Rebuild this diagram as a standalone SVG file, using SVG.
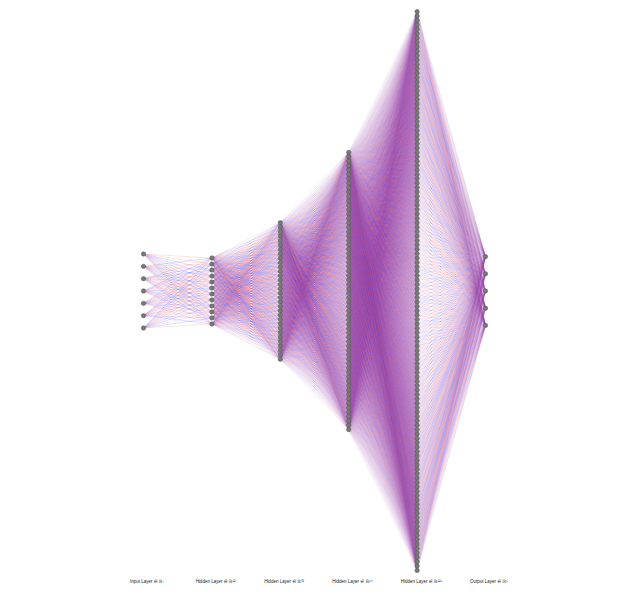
<svg xmlns="http://www.w3.org/2000/svg" width="638" height="604" viewBox="0 0 638 604">
<style>
path{fill:none;stroke-width:.5;vector-effect:non-scaling-stroke}
.r{stroke:#ff5a5a}
.b{stroke:#4040ff}
circle{r:2.2px;fill:#787878;stroke:#555;stroke-width:.5}
.t{font-family:"Liberation Sans","DejaVu Sans",sans-serif;font-size:4.5px;text-anchor:middle;fill:#222}
</style>
<rect width="638" height="604" fill="#fff"/>
<defs>
<path id="q1a" d="M0 -.667L1 0M0 3.444L1 0M0 9.611L1 0"/>
<path id="q1b" d="M0 1.389L1 0M0 5.5L1 0M0 7.556L1 0M0 11.667L1 0"/>
<path id="q1c" d="M0 -.667L1 0M0 1.389L1 0M0 7.556L1 0"/>
<path id="q1d" d="M0 3.444L1 0M0 5.5L1 0M0 9.611L1 0M0 11.667L1 0"/>
<g id="A1"><use href="#q1a" class="r"/><use href="#q1b" class="b"/></g>
<g id="B1"><use href="#q1a" class="b"/><use href="#q1b" class="r"/></g>
<g id="C1"><use href="#q1c" class="r"/><use href="#q1d" class="b"/></g>
<g id="D1"><use href="#q1c" class="b"/><use href="#q1d" class="r"/></g>
<path id="q2a" d="M0 8L1 0M0 12.091L1 0M0 13.455L1 0M0 17.545L1 0M0 20.273L1 0M0 21.636L1 0"/>
<path id="q2b" d="M0 9.364L1 0M0 10.727L1 0M0 14.818L1 0M0 16.182L1 0M0 18.909L1 0M0 23L1 0"/>
<path id="q2c" d="M0 9.364L1 0M0 10.727L1 0M0 13.455L1 0M0 16.182L1 0M0 17.545L1 0M0 23L1 0"/>
<path id="q2d" d="M0 8L1 0M0 12.091L1 0M0 14.818L1 0M0 18.909L1 0M0 20.273L1 0M0 21.636L1 0"/>
<g id="A2"><use href="#q2a" class="r"/><use href="#q2b" class="b"/></g>
<g id="B2"><use href="#q2a" class="b"/><use href="#q2b" class="r"/></g>
<g id="C2"><use href="#q2c" class="r"/><use href="#q2d" class="b"/></g>
<g id="D2"><use href="#q2c" class="b"/><use href="#q2d" class="r"/></g>
<path id="q3a" d="M0 16L1 0M0 18L1 0M0 19L1 0M0 23L1 0M0 24L1 0M0 25L1 0M0 28L1 0M0 30L1 0M0 33L1 0M0 34L1 0M0 36L1 0M0 39L1 0M0 41L1 0M0 42L1 0M0 45L1 0M0 47L1 0"/>
<path id="q3b" d="M0 17L1 0M0 20L1 0M0 21L1 0M0 22L1 0M0 26L1 0M0 27L1 0M0 29L1 0M0 31L1 0M0 32L1 0M0 35L1 0M0 37L1 0M0 38L1 0M0 40L1 0M0 43L1 0M0 44L1 0M0 46L1 0"/>
<path id="q3c" d="M0 17L1 0M0 19L1 0M0 20L1 0M0 22L1 0M0 24L1 0M0 27L1 0M0 29L1 0M0 30L1 0M0 31L1 0M0 33L1 0M0 35L1 0M0 38L1 0M0 40L1 0M0 41L1 0M0 44L1 0M0 46L1 0"/>
<path id="q3d" d="M0 16L1 0M0 18L1 0M0 21L1 0M0 23L1 0M0 25L1 0M0 26L1 0M0 28L1 0M0 32L1 0M0 34L1 0M0 36L1 0M0 37L1 0M0 39L1 0M0 42L1 0M0 43L1 0M0 45L1 0M0 47L1 0"/>
<g id="A3"><use href="#q3a" class="r"/><use href="#q3b" class="b"/></g>
<g id="B3"><use href="#q3a" class="b"/><use href="#q3b" class="r"/></g>
<g id="C3"><use href="#q3c" class="r"/><use href="#q3d" class="b"/></g>
<g id="D3"><use href="#q3c" class="b"/><use href="#q3d" class="r"/></g>
<path id="q4a" d="M0 32L1 0M0 34L1 0M0 35L1 0M0 38L1 0M0 40L1 0M0 41L1 0M0 42L1 0M0 45L1 0M0 47L1 0M0 50L1 0M0 51L1 0M0 53L1 0M0 56L1 0M0 57L1 0M0 59L1 0M0 60L1 0M0 62L1 0M0 65L1 0M0 66L1 0M0 68L1 0M0 71L1 0M0 73L1 0M0 74L1 0M0 76L1 0M0 79L1 0M0 80L1 0M0 81L1 0M0 84L1 0M0 86L1 0M0 89L1 0M0 91L1 0M0 92L1 0M0 94L1 0"/>
<path id="q4b" d="M0 33L1 0M0 36L1 0M0 37L1 0M0 39L1 0M0 43L1 0M0 44L1 0M0 46L1 0M0 48L1 0M0 49L1 0M0 52L1 0M0 54L1 0M0 55L1 0M0 58L1 0M0 61L1 0M0 63L1 0M0 64L1 0M0 67L1 0M0 69L1 0M0 70L1 0M0 72L1 0M0 75L1 0M0 77L1 0M0 78L1 0M0 82L1 0M0 83L1 0M0 85L1 0M0 87L1 0M0 88L1 0M0 90L1 0M0 93L1 0M0 95L1 0"/>
<path id="q4c" d="M0 33L1 0M0 34L1 0M0 37L1 0M0 39L1 0M0 40L1 0M0 43L1 0M0 44L1 0M0 46L1 0M0 48L1 0M0 51L1 0M0 52L1 0M0 53L1 0M0 55L1 0M0 58L1 0M0 59L1 0M0 61L1 0M0 64L1 0M0 65L1 0M0 67L1 0M0 69L1 0M0 70L1 0M0 72L1 0M0 75L1 0M0 77L1 0M0 78L1 0M0 80L1 0M0 82L1 0M0 83L1 0M0 86L1 0M0 88L1 0M0 90L1 0M0 91L1 0M0 95L1 0"/>
<path id="q4d" d="M0 32L1 0M0 35L1 0M0 36L1 0M0 38L1 0M0 41L1 0M0 42L1 0M0 45L1 0M0 47L1 0M0 49L1 0M0 50L1 0M0 54L1 0M0 56L1 0M0 57L1 0M0 60L1 0M0 62L1 0M0 63L1 0M0 66L1 0M0 68L1 0M0 71L1 0M0 73L1 0M0 74L1 0M0 76L1 0M0 79L1 0M0 81L1 0M0 84L1 0M0 85L1 0M0 87L1 0M0 89L1 0M0 92L1 0M0 93L1 0M0 94L1 0"/>
<g id="A4"><use href="#q4a" class="r"/><use href="#q4b" class="b"/></g>
<g id="B4"><use href="#q4a" class="b"/><use href="#q4b" class="r"/></g>
<g id="C4"><use href="#q4c" class="r"/><use href="#q4d" class="b"/></g>
<g id="D4"><use href="#q4c" class="b"/><use href="#q4d" class="r"/></g>
<path id="q5a" d="M0 0L1 55.682M0 0L1 63.5M0 0L1 67.409"/>
<path id="q5b" d="M0 0L1 59.591M0 0L1 71.318"/>
<path id="q5c" d="M0 0L1 55.682M0 0L1 59.591M0 0L1 71.318"/>
<path id="q5d" d="M0 0L1 63.5M0 0L1 67.409"/>
<g id="A5"><use href="#q5a" class="r"/><use href="#q5b" class="b"/></g>
<g id="B5"><use href="#q5a" class="b"/><use href="#q5b" class="r"/></g>
<g id="C5"><use href="#q5c" class="r"/><use href="#q5d" class="b"/></g>
<g id="D5"><use href="#q5c" class="b"/><use href="#q5d" class="r"/></g>
</defs>
<g id="connectors">
<g id="edges-1-2" transform="translate(143.5 258) scale(68.4 6)" stroke-opacity=".35">
<use href="#A1"/><use href="#C1" transform="matrix(1,1,0,1,0,0)"/><use href="#B1" transform="matrix(1,2,0,1,0,0)"/><use href="#D1" transform="matrix(1,3,0,1,0,0)"/><use href="#B1" transform="matrix(1,4,0,1,0,0)"/><use href="#A1" transform="matrix(1,5,0,1,0,0)"/><use href="#D1" transform="matrix(1,6,0,1,0,0)"/><use href="#C1" transform="matrix(1,7,0,1,0,0)"/><use href="#A1" transform="matrix(1,8,0,1,0,0)"/><use href="#D1" transform="matrix(1,9,0,1,0,0)"/><use href="#C1" transform="matrix(1,10,0,1,0,0)"/><use href="#B1" transform="matrix(1,11,0,1,0,0)"/>
</g>
<g id="edges-2-3" transform="translate(211.9 222.8) scale(68.4 4.4)" stroke-opacity=".28">
<use href="#A2"/><use href="#C2" transform="matrix(1,1,0,1,0,0)"/><use href="#B2" transform="matrix(1,2,0,1,0,0)"/><use href="#D2" transform="matrix(1,3,0,1,0,0)"/><use href="#A2" transform="matrix(1,4,0,1,0,0)"/><use href="#B2" transform="matrix(1,5,0,1,0,0)"/><use href="#D2" transform="matrix(1,6,0,1,0,0)"/><use href="#C2" transform="matrix(1,7,0,1,0,0)"/><use href="#C2" transform="matrix(1,8,0,1,0,0)"/><use href="#A2" transform="matrix(1,9,0,1,0,0)"/><use href="#D2" transform="matrix(1,10,0,1,0,0)"/><use href="#B2" transform="matrix(1,11,0,1,0,0)"/><use href="#A2" transform="matrix(1,12,0,1,0,0)"/><use href="#C2" transform="matrix(1,13,0,1,0,0)"/><use href="#B2" transform="matrix(1,14,0,1,0,0)"/><use href="#D2" transform="matrix(1,15,0,1,0,0)"/><use href="#D2" transform="matrix(1,16,0,1,0,0)"/><use href="#A2" transform="matrix(1,17,0,1,0,0)"/><use href="#C2" transform="matrix(1,18,0,1,0,0)"/><use href="#B2" transform="matrix(1,19,0,1,0,0)"/><use href="#C2" transform="matrix(1,20,0,1,0,0)"/><use href="#D2" transform="matrix(1,21,0,1,0,0)"/><use href="#A2" transform="matrix(1,22,0,1,0,0)"/><use href="#B2" transform="matrix(1,23,0,1,0,0)"/><use href="#B2" transform="matrix(1,24,0,1,0,0)"/><use href="#C2" transform="matrix(1,25,0,1,0,0)"/><use href="#D2" transform="matrix(1,26,0,1,0,0)"/><use href="#A2" transform="matrix(1,27,0,1,0,0)"/><use href="#D2" transform="matrix(1,28,0,1,0,0)"/><use href="#B2" transform="matrix(1,29,0,1,0,0)"/><use href="#C2" transform="matrix(1,30,0,1,0,0)"/><use href="#A2" transform="matrix(1,31,0,1,0,0)"/>
</g>
<g id="edges-3-4" transform="translate(280.3 152.4) scale(68.4 4.4)" stroke-opacity=".15">
<use href="#B3"/><use href="#D3" transform="matrix(1,1,0,1,0,0)"/><use href="#A3" transform="matrix(1,2,0,1,0,0)"/><use href="#C3" transform="matrix(1,3,0,1,0,0)"/><use href="#C3" transform="matrix(1,4,0,1,0,0)"/><use href="#A3" transform="matrix(1,5,0,1,0,0)"/><use href="#B3" transform="matrix(1,6,0,1,0,0)"/><use href="#D3" transform="matrix(1,7,0,1,0,0)"/><use href="#A3" transform="matrix(1,8,0,1,0,0)"/><use href="#D3" transform="matrix(1,9,0,1,0,0)"/><use href="#C3" transform="matrix(1,10,0,1,0,0)"/><use href="#B3" transform="matrix(1,11,0,1,0,0)"/><use href="#D3" transform="matrix(1,12,0,1,0,0)"/><use href="#B3" transform="matrix(1,13,0,1,0,0)"/><use href="#A3" transform="matrix(1,14,0,1,0,0)"/><use href="#C3" transform="matrix(1,15,0,1,0,0)"/><use href="#C3" transform="matrix(1,16,0,1,0,0)"/><use href="#D3" transform="matrix(1,17,0,1,0,0)"/><use href="#A3" transform="matrix(1,18,0,1,0,0)"/><use href="#B3" transform="matrix(1,19,0,1,0,0)"/><use href="#A3" transform="matrix(1,20,0,1,0,0)"/><use href="#B3" transform="matrix(1,21,0,1,0,0)"/><use href="#C3" transform="matrix(1,22,0,1,0,0)"/><use href="#D3" transform="matrix(1,23,0,1,0,0)"/><use href="#D3" transform="matrix(1,24,0,1,0,0)"/><use href="#C3" transform="matrix(1,25,0,1,0,0)"/><use href="#B3" transform="matrix(1,26,0,1,0,0)"/><use href="#A3" transform="matrix(1,27,0,1,0,0)"/><use href="#B3" transform="matrix(1,28,0,1,0,0)"/><use href="#A3" transform="matrix(1,29,0,1,0,0)"/><use href="#D3" transform="matrix(1,30,0,1,0,0)"/><use href="#C3" transform="matrix(1,31,0,1,0,0)"/><use href="#A3" transform="matrix(1,32,0,1,0,0)"/><use href="#C3" transform="matrix(1,33,0,1,0,0)"/><use href="#B3" transform="matrix(1,34,0,1,0,0)"/><use href="#D3" transform="matrix(1,35,0,1,0,0)"/><use href="#D3" transform="matrix(1,36,0,1,0,0)"/><use href="#B3" transform="matrix(1,37,0,1,0,0)"/><use href="#C3" transform="matrix(1,38,0,1,0,0)"/><use href="#A3" transform="matrix(1,39,0,1,0,0)"/><use href="#C3" transform="matrix(1,40,0,1,0,0)"/><use href="#A3" transform="matrix(1,41,0,1,0,0)"/><use href="#D3" transform="matrix(1,42,0,1,0,0)"/><use href="#B3" transform="matrix(1,43,0,1,0,0)"/><use href="#B3" transform="matrix(1,44,0,1,0,0)"/><use href="#C3" transform="matrix(1,45,0,1,0,0)"/><use href="#A3" transform="matrix(1,46,0,1,0,0)"/><use href="#D3" transform="matrix(1,47,0,1,0,0)"/><use href="#A3" transform="matrix(1,48,0,1,0,0)"/><use href="#D3" transform="matrix(1,49,0,1,0,0)"/><use href="#B3" transform="matrix(1,50,0,1,0,0)"/><use href="#C3" transform="matrix(1,51,0,1,0,0)"/><use href="#C3" transform="matrix(1,52,0,1,0,0)"/><use href="#B3" transform="matrix(1,53,0,1,0,0)"/><use href="#D3" transform="matrix(1,54,0,1,0,0)"/><use href="#A3" transform="matrix(1,55,0,1,0,0)"/><use href="#D3" transform="matrix(1,56,0,1,0,0)"/><use href="#A3" transform="matrix(1,57,0,1,0,0)"/><use href="#C3" transform="matrix(1,58,0,1,0,0)"/><use href="#B3" transform="matrix(1,59,0,1,0,0)"/><use href="#B3" transform="matrix(1,60,0,1,0,0)"/><use href="#A3" transform="matrix(1,61,0,1,0,0)"/><use href="#C3" transform="matrix(1,62,0,1,0,0)"/><use href="#D3" transform="matrix(1,63,0,1,0,0)"/>
</g>
<g id="edges-4-5" transform="translate(348.7 11.6) scale(68.4 4.4)" stroke-opacity=".08">
<use href="#A4"/><use href="#C4" transform="matrix(1,1,0,1,0,0)"/><use href="#B4" transform="matrix(1,2,0,1,0,0)"/><use href="#D4" transform="matrix(1,3,0,1,0,0)"/><use href="#B4" transform="matrix(1,4,0,1,0,0)"/><use href="#A4" transform="matrix(1,5,0,1,0,0)"/><use href="#D4" transform="matrix(1,6,0,1,0,0)"/><use href="#C4" transform="matrix(1,7,0,1,0,0)"/><use href="#C4" transform="matrix(1,8,0,1,0,0)"/><use href="#A4" transform="matrix(1,9,0,1,0,0)"/><use href="#D4" transform="matrix(1,10,0,1,0,0)"/><use href="#B4" transform="matrix(1,11,0,1,0,0)"/><use href="#D4" transform="matrix(1,12,0,1,0,0)"/><use href="#B4" transform="matrix(1,13,0,1,0,0)"/><use href="#C4" transform="matrix(1,14,0,1,0,0)"/><use href="#A4" transform="matrix(1,15,0,1,0,0)"/><use href="#A4" transform="matrix(1,16,0,1,0,0)"/><use href="#B4" transform="matrix(1,17,0,1,0,0)"/><use href="#D4" transform="matrix(1,18,0,1,0,0)"/><use href="#C4" transform="matrix(1,19,0,1,0,0)"/><use href="#C4" transform="matrix(1,20,0,1,0,0)"/><use href="#D4" transform="matrix(1,21,0,1,0,0)"/><use href="#B4" transform="matrix(1,22,0,1,0,0)"/><use href="#A4" transform="matrix(1,23,0,1,0,0)"/><use href="#B4" transform="matrix(1,24,0,1,0,0)"/><use href="#C4" transform="matrix(1,25,0,1,0,0)"/><use href="#A4" transform="matrix(1,26,0,1,0,0)"/><use href="#D4" transform="matrix(1,27,0,1,0,0)"/><use href="#D4" transform="matrix(1,28,0,1,0,0)"/><use href="#A4" transform="matrix(1,29,0,1,0,0)"/><use href="#C4" transform="matrix(1,30,0,1,0,0)"/><use href="#B4" transform="matrix(1,31,0,1,0,0)"/><use href="#C4" transform="matrix(1,32,0,1,0,0)"/><use href="#B4" transform="matrix(1,33,0,1,0,0)"/><use href="#A4" transform="matrix(1,34,0,1,0,0)"/><use href="#D4" transform="matrix(1,35,0,1,0,0)"/><use href="#A4" transform="matrix(1,36,0,1,0,0)"/><use href="#D4" transform="matrix(1,37,0,1,0,0)"/><use href="#B4" transform="matrix(1,38,0,1,0,0)"/><use href="#C4" transform="matrix(1,39,0,1,0,0)"/><use href="#D4" transform="matrix(1,40,0,1,0,0)"/><use href="#C4" transform="matrix(1,41,0,1,0,0)"/><use href="#A4" transform="matrix(1,42,0,1,0,0)"/><use href="#B4" transform="matrix(1,43,0,1,0,0)"/><use href="#B4" transform="matrix(1,44,0,1,0,0)"/><use href="#D4" transform="matrix(1,45,0,1,0,0)"/><use href="#C4" transform="matrix(1,46,0,1,0,0)"/><use href="#A4" transform="matrix(1,47,0,1,0,0)"/><use href="#A4" transform="matrix(1,48,0,1,0,0)"/><use href="#C4" transform="matrix(1,49,0,1,0,0)"/><use href="#D4" transform="matrix(1,50,0,1,0,0)"/><use href="#B4" transform="matrix(1,51,0,1,0,0)"/><use href="#C4" transform="matrix(1,52,0,1,0,0)"/><use href="#B4" transform="matrix(1,53,0,1,0,0)"/><use href="#D4" transform="matrix(1,54,0,1,0,0)"/><use href="#A4" transform="matrix(1,55,0,1,0,0)"/><use href="#D4" transform="matrix(1,56,0,1,0,0)"/><use href="#A4" transform="matrix(1,57,0,1,0,0)"/><use href="#B4" transform="matrix(1,58,0,1,0,0)"/><use href="#C4" transform="matrix(1,59,0,1,0,0)"/><use href="#B4" transform="matrix(1,60,0,1,0,0)"/><use href="#C4" transform="matrix(1,61,0,1,0,0)"/><use href="#D4" transform="matrix(1,62,0,1,0,0)"/><use href="#A4" transform="matrix(1,63,0,1,0,0)"/>
<use href="#B4" transform="matrix(1,64,0,1,0,0)"/><use href="#D4" transform="matrix(1,65,0,1,0,0)"/><use href="#A4" transform="matrix(1,66,0,1,0,0)"/><use href="#C4" transform="matrix(1,67,0,1,0,0)"/><use href="#C4" transform="matrix(1,68,0,1,0,0)"/><use href="#A4" transform="matrix(1,69,0,1,0,0)"/><use href="#B4" transform="matrix(1,70,0,1,0,0)"/><use href="#D4" transform="matrix(1,71,0,1,0,0)"/><use href="#A4" transform="matrix(1,72,0,1,0,0)"/><use href="#D4" transform="matrix(1,73,0,1,0,0)"/><use href="#C4" transform="matrix(1,74,0,1,0,0)"/><use href="#B4" transform="matrix(1,75,0,1,0,0)"/><use href="#D4" transform="matrix(1,76,0,1,0,0)"/><use href="#B4" transform="matrix(1,77,0,1,0,0)"/><use href="#A4" transform="matrix(1,78,0,1,0,0)"/><use href="#C4" transform="matrix(1,79,0,1,0,0)"/><use href="#C4" transform="matrix(1,80,0,1,0,0)"/><use href="#D4" transform="matrix(1,81,0,1,0,0)"/><use href="#A4" transform="matrix(1,82,0,1,0,0)"/><use href="#B4" transform="matrix(1,83,0,1,0,0)"/><use href="#A4" transform="matrix(1,84,0,1,0,0)"/><use href="#B4" transform="matrix(1,85,0,1,0,0)"/><use href="#C4" transform="matrix(1,86,0,1,0,0)"/><use href="#D4" transform="matrix(1,87,0,1,0,0)"/><use href="#D4" transform="matrix(1,88,0,1,0,0)"/><use href="#C4" transform="matrix(1,89,0,1,0,0)"/><use href="#B4" transform="matrix(1,90,0,1,0,0)"/><use href="#A4" transform="matrix(1,91,0,1,0,0)"/><use href="#B4" transform="matrix(1,92,0,1,0,0)"/><use href="#A4" transform="matrix(1,93,0,1,0,0)"/><use href="#D4" transform="matrix(1,94,0,1,0,0)"/><use href="#C4" transform="matrix(1,95,0,1,0,0)"/><use href="#A4" transform="matrix(1,96,0,1,0,0)"/><use href="#C4" transform="matrix(1,97,0,1,0,0)"/><use href="#B4" transform="matrix(1,98,0,1,0,0)"/><use href="#D4" transform="matrix(1,99,0,1,0,0)"/><use href="#D4" transform="matrix(1,100,0,1,0,0)"/><use href="#B4" transform="matrix(1,101,0,1,0,0)"/><use href="#C4" transform="matrix(1,102,0,1,0,0)"/><use href="#A4" transform="matrix(1,103,0,1,0,0)"/><use href="#C4" transform="matrix(1,104,0,1,0,0)"/><use href="#A4" transform="matrix(1,105,0,1,0,0)"/><use href="#D4" transform="matrix(1,106,0,1,0,0)"/><use href="#B4" transform="matrix(1,107,0,1,0,0)"/><use href="#B4" transform="matrix(1,108,0,1,0,0)"/><use href="#C4" transform="matrix(1,109,0,1,0,0)"/><use href="#A4" transform="matrix(1,110,0,1,0,0)"/><use href="#D4" transform="matrix(1,111,0,1,0,0)"/><use href="#A4" transform="matrix(1,112,0,1,0,0)"/><use href="#D4" transform="matrix(1,113,0,1,0,0)"/><use href="#B4" transform="matrix(1,114,0,1,0,0)"/><use href="#C4" transform="matrix(1,115,0,1,0,0)"/><use href="#C4" transform="matrix(1,116,0,1,0,0)"/><use href="#B4" transform="matrix(1,117,0,1,0,0)"/><use href="#D4" transform="matrix(1,118,0,1,0,0)"/><use href="#A4" transform="matrix(1,119,0,1,0,0)"/><use href="#D4" transform="matrix(1,120,0,1,0,0)"/><use href="#A4" transform="matrix(1,121,0,1,0,0)"/><use href="#C4" transform="matrix(1,122,0,1,0,0)"/><use href="#B4" transform="matrix(1,123,0,1,0,0)"/><use href="#B4" transform="matrix(1,124,0,1,0,0)"/><use href="#A4" transform="matrix(1,125,0,1,0,0)"/><use href="#C4" transform="matrix(1,126,0,1,0,0)"/><use href="#D4" transform="matrix(1,127,0,1,0,0)"/>
</g>
<g id="edges-5-6" transform="translate(417.1 11.6) scale(68.4 4.4)" stroke-opacity=".2">
<use href="#B5"/><use href="#D5" transform="matrix(1,-1,0,1,0,1)"/><use href="#A5" transform="matrix(1,-2,0,1,0,2)"/><use href="#C5" transform="matrix(1,-3,0,1,0,3)"/><use href="#C5" transform="matrix(1,-4,0,1,0,4)"/><use href="#A5" transform="matrix(1,-5,0,1,0,5)"/><use href="#B5" transform="matrix(1,-6,0,1,0,6)"/><use href="#D5" transform="matrix(1,-7,0,1,0,7)"/><use href="#A5" transform="matrix(1,-8,0,1,0,8)"/><use href="#D5" transform="matrix(1,-9,0,1,0,9)"/><use href="#C5" transform="matrix(1,-10,0,1,0,10)"/><use href="#B5" transform="matrix(1,-11,0,1,0,11)"/><use href="#D5" transform="matrix(1,-12,0,1,0,12)"/><use href="#B5" transform="matrix(1,-13,0,1,0,13)"/><use href="#A5" transform="matrix(1,-14,0,1,0,14)"/><use href="#C5" transform="matrix(1,-15,0,1,0,15)"/><use href="#C5" transform="matrix(1,-16,0,1,0,16)"/><use href="#D5" transform="matrix(1,-17,0,1,0,17)"/><use href="#A5" transform="matrix(1,-18,0,1,0,18)"/><use href="#B5" transform="matrix(1,-19,0,1,0,19)"/><use href="#A5" transform="matrix(1,-20,0,1,0,20)"/><use href="#B5" transform="matrix(1,-21,0,1,0,21)"/><use href="#C5" transform="matrix(1,-22,0,1,0,22)"/><use href="#D5" transform="matrix(1,-23,0,1,0,23)"/><use href="#D5" transform="matrix(1,-24,0,1,0,24)"/><use href="#C5" transform="matrix(1,-25,0,1,0,25)"/><use href="#B5" transform="matrix(1,-26,0,1,0,26)"/><use href="#A5" transform="matrix(1,-27,0,1,0,27)"/><use href="#B5" transform="matrix(1,-28,0,1,0,28)"/><use href="#A5" transform="matrix(1,-29,0,1,0,29)"/><use href="#D5" transform="matrix(1,-30,0,1,0,30)"/><use href="#C5" transform="matrix(1,-31,0,1,0,31)"/><use href="#A5" transform="matrix(1,-32,0,1,0,32)"/><use href="#C5" transform="matrix(1,-33,0,1,0,33)"/><use href="#B5" transform="matrix(1,-34,0,1,0,34)"/><use href="#D5" transform="matrix(1,-35,0,1,0,35)"/><use href="#D5" transform="matrix(1,-36,0,1,0,36)"/><use href="#B5" transform="matrix(1,-37,0,1,0,37)"/><use href="#C5" transform="matrix(1,-38,0,1,0,38)"/><use href="#A5" transform="matrix(1,-39,0,1,0,39)"/><use href="#C5" transform="matrix(1,-40,0,1,0,40)"/><use href="#A5" transform="matrix(1,-41,0,1,0,41)"/><use href="#D5" transform="matrix(1,-42,0,1,0,42)"/><use href="#B5" transform="matrix(1,-43,0,1,0,43)"/><use href="#B5" transform="matrix(1,-44,0,1,0,44)"/><use href="#C5" transform="matrix(1,-45,0,1,0,45)"/><use href="#A5" transform="matrix(1,-46,0,1,0,46)"/><use href="#D5" transform="matrix(1,-47,0,1,0,47)"/><use href="#A5" transform="matrix(1,-48,0,1,0,48)"/><use href="#D5" transform="matrix(1,-49,0,1,0,49)"/><use href="#B5" transform="matrix(1,-50,0,1,0,50)"/><use href="#C5" transform="matrix(1,-51,0,1,0,51)"/><use href="#C5" transform="matrix(1,-52,0,1,0,52)"/><use href="#B5" transform="matrix(1,-53,0,1,0,53)"/><use href="#D5" transform="matrix(1,-54,0,1,0,54)"/><use href="#A5" transform="matrix(1,-55,0,1,0,55)"/><use href="#D5" transform="matrix(1,-56,0,1,0,56)"/><use href="#A5" transform="matrix(1,-57,0,1,0,57)"/><use href="#C5" transform="matrix(1,-58,0,1,0,58)"/><use href="#B5" transform="matrix(1,-59,0,1,0,59)"/><use href="#B5" transform="matrix(1,-60,0,1,0,60)"/><use href="#A5" transform="matrix(1,-61,0,1,0,61)"/><use href="#C5" transform="matrix(1,-62,0,1,0,62)"/><use href="#D5" transform="matrix(1,-63,0,1,0,63)"/>
<use href="#A5" transform="matrix(1,-64,0,1,0,64)"/><use href="#C5" transform="matrix(1,-65,0,1,0,65)"/><use href="#B5" transform="matrix(1,-66,0,1,0,66)"/><use href="#D5" transform="matrix(1,-67,0,1,0,67)"/><use href="#B5" transform="matrix(1,-68,0,1,0,68)"/><use href="#A5" transform="matrix(1,-69,0,1,0,69)"/><use href="#D5" transform="matrix(1,-70,0,1,0,70)"/><use href="#C5" transform="matrix(1,-71,0,1,0,71)"/><use href="#C5" transform="matrix(1,-72,0,1,0,72)"/><use href="#A5" transform="matrix(1,-73,0,1,0,73)"/><use href="#D5" transform="matrix(1,-74,0,1,0,74)"/><use href="#B5" transform="matrix(1,-75,0,1,0,75)"/><use href="#D5" transform="matrix(1,-76,0,1,0,76)"/><use href="#B5" transform="matrix(1,-77,0,1,0,77)"/><use href="#C5" transform="matrix(1,-78,0,1,0,78)"/><use href="#A5" transform="matrix(1,-79,0,1,0,79)"/><use href="#A5" transform="matrix(1,-80,0,1,0,80)"/><use href="#B5" transform="matrix(1,-81,0,1,0,81)"/><use href="#D5" transform="matrix(1,-82,0,1,0,82)"/><use href="#C5" transform="matrix(1,-83,0,1,0,83)"/><use href="#C5" transform="matrix(1,-84,0,1,0,84)"/><use href="#D5" transform="matrix(1,-85,0,1,0,85)"/><use href="#B5" transform="matrix(1,-86,0,1,0,86)"/><use href="#A5" transform="matrix(1,-87,0,1,0,87)"/><use href="#B5" transform="matrix(1,-88,0,1,0,88)"/><use href="#C5" transform="matrix(1,-89,0,1,0,89)"/><use href="#A5" transform="matrix(1,-90,0,1,0,90)"/><use href="#D5" transform="matrix(1,-91,0,1,0,91)"/><use href="#D5" transform="matrix(1,-92,0,1,0,92)"/><use href="#A5" transform="matrix(1,-93,0,1,0,93)"/><use href="#C5" transform="matrix(1,-94,0,1,0,94)"/><use href="#B5" transform="matrix(1,-95,0,1,0,95)"/><use href="#C5" transform="matrix(1,-96,0,1,0,96)"/><use href="#B5" transform="matrix(1,-97,0,1,0,97)"/><use href="#A5" transform="matrix(1,-98,0,1,0,98)"/><use href="#D5" transform="matrix(1,-99,0,1,0,99)"/><use href="#A5" transform="matrix(1,-100,0,1,0,100)"/><use href="#D5" transform="matrix(1,-101,0,1,0,101)"/><use href="#B5" transform="matrix(1,-102,0,1,0,102)"/><use href="#C5" transform="matrix(1,-103,0,1,0,103)"/><use href="#D5" transform="matrix(1,-104,0,1,0,104)"/><use href="#C5" transform="matrix(1,-105,0,1,0,105)"/><use href="#A5" transform="matrix(1,-106,0,1,0,106)"/><use href="#B5" transform="matrix(1,-107,0,1,0,107)"/><use href="#B5" transform="matrix(1,-108,0,1,0,108)"/><use href="#D5" transform="matrix(1,-109,0,1,0,109)"/><use href="#C5" transform="matrix(1,-110,0,1,0,110)"/><use href="#A5" transform="matrix(1,-111,0,1,0,111)"/><use href="#A5" transform="matrix(1,-112,0,1,0,112)"/><use href="#C5" transform="matrix(1,-113,0,1,0,113)"/><use href="#D5" transform="matrix(1,-114,0,1,0,114)"/><use href="#B5" transform="matrix(1,-115,0,1,0,115)"/><use href="#C5" transform="matrix(1,-116,0,1,0,116)"/><use href="#B5" transform="matrix(1,-117,0,1,0,117)"/><use href="#D5" transform="matrix(1,-118,0,1,0,118)"/><use href="#A5" transform="matrix(1,-119,0,1,0,119)"/><use href="#D5" transform="matrix(1,-120,0,1,0,120)"/><use href="#A5" transform="matrix(1,-121,0,1,0,121)"/><use href="#B5" transform="matrix(1,-122,0,1,0,122)"/><use href="#C5" transform="matrix(1,-123,0,1,0,123)"/><use href="#B5" transform="matrix(1,-124,0,1,0,124)"/><use href="#C5" transform="matrix(1,-125,0,1,0,125)"/><use href="#D5" transform="matrix(1,-126,0,1,0,126)"/><use href="#A5" transform="matrix(1,-127,0,1,0,127)"/>
</g>
</g>
<g id="layer1" transform="translate(143.5 0)">
<g id="n1_0"><circle cy="254"/></g><g id="n1_1"><circle cy="266.33"/></g><g id="n1_2"><circle cy="278.67"/></g><g id="n1_3"><circle cy="291"/></g><g id="n1_4"><circle cy="303.33"/></g><g id="n1_5"><circle cy="315.67"/></g><g id="n1_6"><circle cy="328"/></g>
</g>
<g id="layer2" transform="translate(211.9 0)">
<g id="n2_0"><circle cy="258"/></g><g id="n2_1"><circle cy="264"/></g><g id="n2_2"><circle cy="270"/></g><g id="n2_3"><circle cy="276"/></g><g id="n2_4"><circle cy="282"/></g><g id="n2_5"><circle cy="288"/></g><g id="n2_6"><circle cy="294"/></g><g id="n2_7"><circle cy="300"/></g><g id="n2_8"><circle cy="306"/></g><g id="n2_9"><circle cy="312"/></g><g id="n2_10"><circle cy="318"/></g><g id="n2_11"><circle cy="324"/></g>
</g>
<g id="layer3" transform="translate(280.3 0)">
<g id="n3_0"><circle cy="222.8"/></g><g id="n3_1"><circle cy="227.2"/></g><g id="n3_2"><circle cy="231.6"/></g><g id="n3_3"><circle cy="236"/></g><g id="n3_4"><circle cy="240.4"/></g><g id="n3_5"><circle cy="244.8"/></g><g id="n3_6"><circle cy="249.2"/></g><g id="n3_7"><circle cy="253.6"/></g><g id="n3_8"><circle cy="258"/></g><g id="n3_9"><circle cy="262.4"/></g><g id="n3_10"><circle cy="266.8"/></g><g id="n3_11"><circle cy="271.2"/></g><g id="n3_12"><circle cy="275.6"/></g><g id="n3_13"><circle cy="280"/></g><g id="n3_14"><circle cy="284.4"/></g><g id="n3_15"><circle cy="288.8"/></g><g id="n3_16"><circle cy="293.2"/></g><g id="n3_17"><circle cy="297.6"/></g><g id="n3_18"><circle cy="302"/></g><g id="n3_19"><circle cy="306.4"/></g><g id="n3_20"><circle cy="310.8"/></g><g id="n3_21"><circle cy="315.2"/></g><g id="n3_22"><circle cy="319.6"/></g><g id="n3_23"><circle cy="324"/></g><g id="n3_24"><circle cy="328.4"/></g><g id="n3_25"><circle cy="332.8"/></g><g id="n3_26"><circle cy="337.2"/></g><g id="n3_27"><circle cy="341.6"/></g><g id="n3_28"><circle cy="346"/></g><g id="n3_29"><circle cy="350.4"/></g><g id="n3_30"><circle cy="354.8"/></g><g id="n3_31"><circle cy="359.2"/></g>
</g>
<g id="layer4" transform="translate(348.7 0)">
<g id="n4_0"><circle cy="152.4"/></g><g id="n4_1"><circle cy="156.8"/></g><g id="n4_2"><circle cy="161.2"/></g><g id="n4_3"><circle cy="165.6"/></g><g id="n4_4"><circle cy="170"/></g><g id="n4_5"><circle cy="174.4"/></g><g id="n4_6"><circle cy="178.8"/></g><g id="n4_7"><circle cy="183.2"/></g><g id="n4_8"><circle cy="187.6"/></g><g id="n4_9"><circle cy="192"/></g><g id="n4_10"><circle cy="196.4"/></g><g id="n4_11"><circle cy="200.8"/></g><g id="n4_12"><circle cy="205.2"/></g><g id="n4_13"><circle cy="209.6"/></g><g id="n4_14"><circle cy="214"/></g><g id="n4_15"><circle cy="218.4"/></g><g id="n4_16"><circle cy="222.8"/></g><g id="n4_17"><circle cy="227.2"/></g><g id="n4_18"><circle cy="231.6"/></g><g id="n4_19"><circle cy="236"/></g><g id="n4_20"><circle cy="240.4"/></g><g id="n4_21"><circle cy="244.8"/></g><g id="n4_22"><circle cy="249.2"/></g><g id="n4_23"><circle cy="253.6"/></g><g id="n4_24"><circle cy="258"/></g><g id="n4_25"><circle cy="262.4"/></g><g id="n4_26"><circle cy="266.8"/></g><g id="n4_27"><circle cy="271.2"/></g><g id="n4_28"><circle cy="275.6"/></g><g id="n4_29"><circle cy="280"/></g><g id="n4_30"><circle cy="284.4"/></g><g id="n4_31"><circle cy="288.8"/></g><g id="n4_32"><circle cy="293.2"/></g><g id="n4_33"><circle cy="297.6"/></g><g id="n4_34"><circle cy="302"/></g><g id="n4_35"><circle cy="306.4"/></g><g id="n4_36"><circle cy="310.8"/></g><g id="n4_37"><circle cy="315.2"/></g><g id="n4_38"><circle cy="319.6"/></g><g id="n4_39"><circle cy="324"/></g><g id="n4_40"><circle cy="328.4"/></g><g id="n4_41"><circle cy="332.8"/></g><g id="n4_42"><circle cy="337.2"/></g><g id="n4_43"><circle cy="341.6"/></g><g id="n4_44"><circle cy="346"/></g><g id="n4_45"><circle cy="350.4"/></g><g id="n4_46"><circle cy="354.8"/></g><g id="n4_47"><circle cy="359.2"/></g><g id="n4_48"><circle cy="363.6"/></g><g id="n4_49"><circle cy="368"/></g><g id="n4_50"><circle cy="372.4"/></g><g id="n4_51"><circle cy="376.8"/></g><g id="n4_52"><circle cy="381.2"/></g><g id="n4_53"><circle cy="385.6"/></g><g id="n4_54"><circle cy="390"/></g><g id="n4_55"><circle cy="394.4"/></g><g id="n4_56"><circle cy="398.8"/></g><g id="n4_57"><circle cy="403.2"/></g><g id="n4_58"><circle cy="407.6"/></g><g id="n4_59"><circle cy="412"/></g><g id="n4_60"><circle cy="416.4"/></g><g id="n4_61"><circle cy="420.8"/></g><g id="n4_62"><circle cy="425.2"/></g><g id="n4_63"><circle cy="429.6"/></g>
</g>
<g id="layer5" transform="translate(417.1 0)">
<g id="n5_0"><circle cy="11.6"/></g><g id="n5_1"><circle cy="16"/></g><g id="n5_2"><circle cy="20.4"/></g><g id="n5_3"><circle cy="24.8"/></g><g id="n5_4"><circle cy="29.2"/></g><g id="n5_5"><circle cy="33.6"/></g><g id="n5_6"><circle cy="38"/></g><g id="n5_7"><circle cy="42.4"/></g><g id="n5_8"><circle cy="46.8"/></g><g id="n5_9"><circle cy="51.2"/></g><g id="n5_10"><circle cy="55.6"/></g><g id="n5_11"><circle cy="60"/></g><g id="n5_12"><circle cy="64.4"/></g><g id="n5_13"><circle cy="68.8"/></g><g id="n5_14"><circle cy="73.2"/></g><g id="n5_15"><circle cy="77.6"/></g><g id="n5_16"><circle cy="82"/></g><g id="n5_17"><circle cy="86.4"/></g><g id="n5_18"><circle cy="90.8"/></g><g id="n5_19"><circle cy="95.2"/></g><g id="n5_20"><circle cy="99.6"/></g><g id="n5_21"><circle cy="104"/></g><g id="n5_22"><circle cy="108.4"/></g><g id="n5_23"><circle cy="112.8"/></g><g id="n5_24"><circle cy="117.2"/></g><g id="n5_25"><circle cy="121.6"/></g><g id="n5_26"><circle cy="126"/></g><g id="n5_27"><circle cy="130.4"/></g><g id="n5_28"><circle cy="134.8"/></g><g id="n5_29"><circle cy="139.2"/></g><g id="n5_30"><circle cy="143.6"/></g><g id="n5_31"><circle cy="148"/></g><g id="n5_32"><circle cy="152.4"/></g><g id="n5_33"><circle cy="156.8"/></g><g id="n5_34"><circle cy="161.2"/></g><g id="n5_35"><circle cy="165.6"/></g><g id="n5_36"><circle cy="170"/></g><g id="n5_37"><circle cy="174.4"/></g><g id="n5_38"><circle cy="178.8"/></g><g id="n5_39"><circle cy="183.2"/></g><g id="n5_40"><circle cy="187.6"/></g><g id="n5_41"><circle cy="192"/></g><g id="n5_42"><circle cy="196.4"/></g><g id="n5_43"><circle cy="200.8"/></g><g id="n5_44"><circle cy="205.2"/></g><g id="n5_45"><circle cy="209.6"/></g><g id="n5_46"><circle cy="214"/></g><g id="n5_47"><circle cy="218.4"/></g><g id="n5_48"><circle cy="222.8"/></g><g id="n5_49"><circle cy="227.2"/></g><g id="n5_50"><circle cy="231.6"/></g><g id="n5_51"><circle cy="236"/></g><g id="n5_52"><circle cy="240.4"/></g><g id="n5_53"><circle cy="244.8"/></g><g id="n5_54"><circle cy="249.2"/></g><g id="n5_55"><circle cy="253.6"/></g><g id="n5_56"><circle cy="258"/></g><g id="n5_57"><circle cy="262.4"/></g><g id="n5_58"><circle cy="266.8"/></g><g id="n5_59"><circle cy="271.2"/></g><g id="n5_60"><circle cy="275.6"/></g><g id="n5_61"><circle cy="280"/></g><g id="n5_62"><circle cy="284.4"/></g><g id="n5_63"><circle cy="288.8"/></g><g id="n5_64"><circle cy="293.2"/></g><g id="n5_65"><circle cy="297.6"/></g><g id="n5_66"><circle cy="302"/></g><g id="n5_67"><circle cy="306.4"/></g><g id="n5_68"><circle cy="310.8"/></g><g id="n5_69"><circle cy="315.2"/></g><g id="n5_70"><circle cy="319.6"/></g><g id="n5_71"><circle cy="324"/></g><g id="n5_72"><circle cy="328.4"/></g><g id="n5_73"><circle cy="332.8"/></g><g id="n5_74"><circle cy="337.2"/></g><g id="n5_75"><circle cy="341.6"/></g><g id="n5_76"><circle cy="346"/></g><g id="n5_77"><circle cy="350.4"/></g><g id="n5_78"><circle cy="354.8"/></g><g id="n5_79"><circle cy="359.2"/></g><g id="n5_80"><circle cy="363.6"/></g><g id="n5_81"><circle cy="368"/></g><g id="n5_82"><circle cy="372.4"/></g><g id="n5_83"><circle cy="376.8"/></g><g id="n5_84"><circle cy="381.2"/></g><g id="n5_85"><circle cy="385.6"/></g><g id="n5_86"><circle cy="390"/></g><g id="n5_87"><circle cy="394.4"/></g><g id="n5_88"><circle cy="398.8"/></g><g id="n5_89"><circle cy="403.2"/></g><g id="n5_90"><circle cy="407.6"/></g><g id="n5_91"><circle cy="412"/></g><g id="n5_92"><circle cy="416.4"/></g><g id="n5_93"><circle cy="420.8"/></g><g id="n5_94"><circle cy="425.2"/></g><g id="n5_95"><circle cy="429.6"/></g><g id="n5_96"><circle cy="434"/></g><g id="n5_97"><circle cy="438.4"/></g><g id="n5_98"><circle cy="442.8"/></g><g id="n5_99"><circle cy="447.2"/></g><g id="n5_100"><circle cy="451.6"/></g><g id="n5_101"><circle cy="456"/></g><g id="n5_102"><circle cy="460.4"/></g><g id="n5_103"><circle cy="464.8"/></g><g id="n5_104"><circle cy="469.2"/></g><g id="n5_105"><circle cy="473.6"/></g><g id="n5_106"><circle cy="478"/></g><g id="n5_107"><circle cy="482.4"/></g><g id="n5_108"><circle cy="486.8"/></g><g id="n5_109"><circle cy="491.2"/></g><g id="n5_110"><circle cy="495.6"/></g><g id="n5_111"><circle cy="500"/></g><g id="n5_112"><circle cy="504.4"/></g><g id="n5_113"><circle cy="508.8"/></g><g id="n5_114"><circle cy="513.2"/></g><g id="n5_115"><circle cy="517.6"/></g><g id="n5_116"><circle cy="522"/></g><g id="n5_117"><circle cy="526.4"/></g><g id="n5_118"><circle cy="530.8"/></g><g id="n5_119"><circle cy="535.2"/></g><g id="n5_120"><circle cy="539.6"/></g><g id="n5_121"><circle cy="544"/></g><g id="n5_122"><circle cy="548.4"/></g><g id="n5_123"><circle cy="552.8"/></g><g id="n5_124"><circle cy="557.2"/></g><g id="n5_125"><circle cy="561.6"/></g><g id="n5_126"><circle cy="566"/></g><g id="n5_127"><circle cy="570.4"/></g>
</g>
<g id="layer6" transform="translate(485.5 0)">
<g id="n6_0"><circle cy="256.6"/></g><g id="n6_1"><circle cy="273.8"/></g><g id="n6_2"><circle cy="291"/></g><g id="n6_3"><circle cy="308.2"/></g><g id="n6_4"><circle cy="325.4"/></g>
</g>
<g id="labels">
<text class="t" x="147" y="583">Input Layer ∈ ℝ⁷</text>
<text class="t" x="215.5" y="583">Hidden Layer ∈ ℝ¹²</text>
<text class="t" x="284" y="583">Hidden Layer ∈ ℝ³²</text>
<text class="t" x="352.5" y="583">Hidden Layer ∈ ℝ⁶⁴</text>
<text class="t" x="421.5" y="583">Hidden Layer ∈ ℝ¹²⁸</text>
<text class="t" x="489" y="583">Output Layer ∈ ℝ⁵</text>
</g>
</svg>
